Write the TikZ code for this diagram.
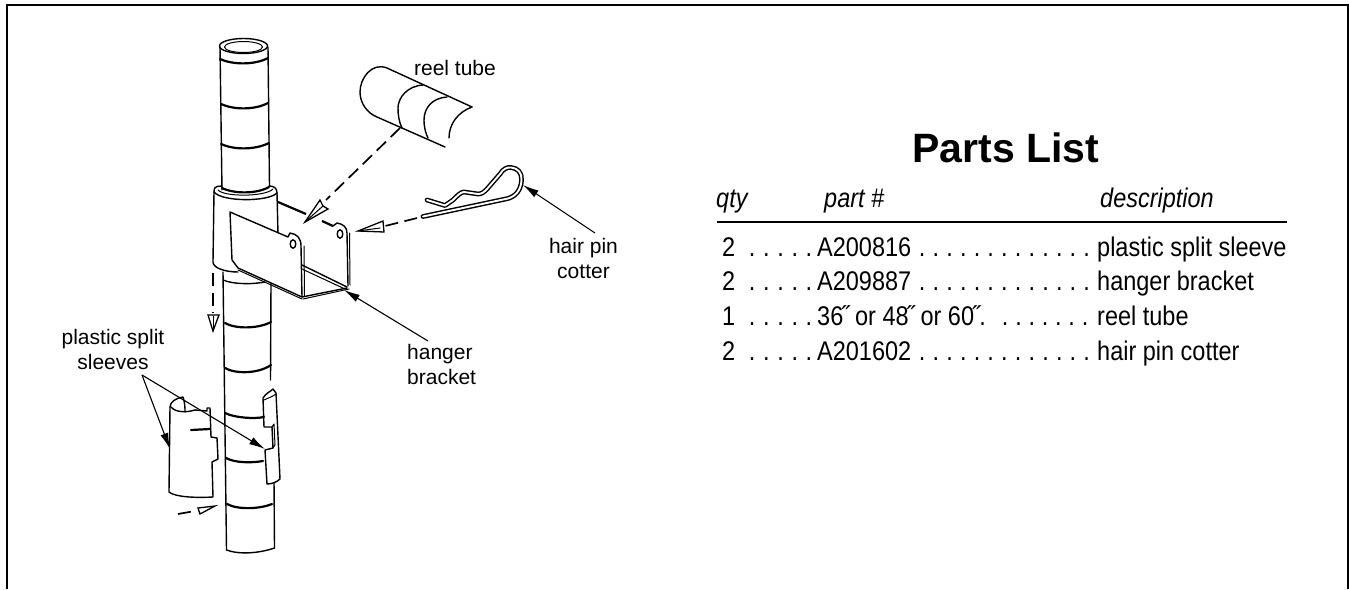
\documentclass[tikz,border=0pt]{standalone}
\usepackage{fontspec}
\setmainfont{Liberation Sans}
\newfontfamily\condfont[FakeStretch=0.87]{Liberation Sans}
\usetikzlibrary{arrows.meta}
\newcommand{\dotA}{\makebox[14.2pt][c]{.}}
\newcommand{\dotB}{\makebox[13.7pt][c]{.}}
\newcommand{\dotC}{\makebox[13.3pt][c]{.}}
\newcommand{\dotsA}{\dotA\dotA\dotA\dotA\dotA}
\newcommand{\dotsB}{\dotB\dotB\dotB\dotB\dotB\dotB\dotB\dotB\dotB\dotB\dotB\dotB\dotB}
\newcommand{\dotsC}{\dotC\dotC\dotC\dotC\dotC\dotC\dotC}
\newcommand{\inchmark}{\kern-2pt˝\kern-.5pt}
\tikzset{
 thinl/.style={line width=1pt,line join=round,line cap=round},
 medl/.style={line width=1.4pt,line join=round,line cap=round},
 band/.style={line width=2.2pt,line cap=round},
 dashl/.style={line width=1.7pt,dash pattern=on 13pt off 6.5pt},
 hollow/.style={draw=black,fill=white,line width=1.3pt,line join=miter},
 leader/.style={line width=1.1pt,-{Latex[length=16pt,width=8pt]}},
 lab/.style={font=\fontsize{21}{25}\selectfont,align=center,inner sep=0pt},
 row/.style={font=\condfont\fontsize{27}{27}\selectfont,anchor=base west,inner sep=0pt},
 head/.style={font=\condfont\itshape\fontsize{27}{27}\selectfont,anchor=base west,inner sep=0pt}
}
\begin{document}
\begin{tikzpicture}[x=1pt,y=-1pt]
\useasboundingbox (0,0) rectangle (1349,589);
\fill[white] (0,0) rectangle (1349,589);
% frame
\draw[line width=2.2pt] (7.3,589) -- (7.3,4.8) -- (1347.6,4.8) -- (1347.6,589);
% pole upper
\draw[medl] (220,47) -- (222,190);
\draw[medl] (268,47) -- (269.5,186);
\draw[medl] (243.5,46) ellipse (24 and 7.5);
\draw[thinl] (243.5,47) ellipse (19 and 5.5);
\draw[band] (220,59) .. controls (233,65) and (255,65) .. (268,58);
\draw[band] (221,104) .. controls (234,110) and (255,110) .. (268,103);
\draw[band] (221,144) .. controls (234,150) and (255,150) .. (269,143);
\draw[band] (222,188) .. controls (234,194) and (257,194) .. (269,187);
% collar
\draw[medl] (214,192) .. controls (214,184) and (220,187) .. (222,186);
\draw[medl] (269,186) .. controls (274,186) and (277,188) .. (277,193);
\draw[medl] (214,192) .. controls (222,202) and (268,202) .. (277,193);
\draw[thinl] (218,190) .. controls (224,197) and (265,197) .. (273,189);
\draw[medl] (214,192) -- (213,262) .. controls (213,268) and (225,272) .. (238,272);
\draw[medl] (277,193) -- (278,234);
% pole lower
\draw[medl] (223,272) -- (226.5,550);
\draw[medl] (271,283) -- (270.5,380);
\draw[medl] (274,480) -- (274.5,548);
\draw[medl] (226.5,550) .. controls (240,555) and (260,553) .. (274.5,548);
\draw[medl] (223,280) .. controls (235,285) and (255,284) .. (265,282);
\draw[band] (225,323) .. controls (235,329) and (258,329) .. (271,322);
\draw[band] (225,368) .. controls (235,374) and (258,374) .. (271,365);
\draw[band] (226,458) .. controls (235,463) and (252,463) .. (263,461);
\draw[band] (227,504) .. controls (238,510) and (260,509) .. (272,504);
% bracket back plate
\fill[white] (283,206) -- (333,228) -- (348,285) -- (302,297) -- (302,240) -- cycle;
\draw[line width=2.2pt] (278,202) -- (306,214);
\draw[line width=2.2pt] (322,221) -- (333,226);
\draw[medl] (333,226) -- (337,223) .. controls (343,224) and (347,227) .. (347,233) -- (348,286);
\draw[thinl] (349.5,233) -- (350,285);
\draw[medl] (302,265) -- (347,287);
\draw[thinl] (302,269) -- (345,289);
\draw[medl] (302,297) -- (347,288);
\draw[thinl] (303,299) -- (349,289);
\draw[medl] (340,234) ellipse (2.8 and 4.2);
% bracket front plate
\path[fill=white,draw=black,line width=1.4pt,line join=round] (230,212) -- (288,237) -- (290,233) .. controls (297,234) and (301,238) .. (301,246) -- (302,297) -- (238,268) -- (232,260) -- cycle;
\draw[thinl] (304,246) -- (304.5,296);
\draw[thinl] (238,270) -- (302,299);
\draw[medl] (293,244) ellipse (2.8 and 4.2);
% reel tube
\draw[medl] (472,107) -- (387,68) .. controls (372,62) and (360,78) .. (360,92) .. controls (360,103) and (367,113) .. (377,117) -- (445,147);
\draw[medl] (423,85) .. controls (407,86) and (398,98) .. (398,108) .. controls (398,115) and (399,122) .. (402,128);
\draw[medl] (447,97) .. controls (432,98) and (424,108) .. (424,120) .. controls (424,128) and (426,134) .. (428,138);
\draw[medl] (472,107) .. controls (458,112) and (449,124) .. (449,138);
% hair pin cotter: a tube drawn black, then hollowed
\def\pinpath{(427,200) -- (445,205.5) -- (453,200) .. controls (458,195) and (461,192) .. (464,192) -- (478,194) .. controls (482,194) and (484,192) .. (487,189) -- (500,174) .. controls (503,169) and (507,167) .. (511,167.5) .. controls (518,168) and (522,173) .. (521.5,180) .. controls (521,190) and (516,196) .. (508,198.5) -- (423,216.5)}
\draw[line width=4.8pt,line cap=round,line join=round] \pinpath;
\draw[white,line width=1.9pt,line cap=round,line join=round] \pinpath;
% dashes and hollow arrows
\draw[dashl] (400,128) -- (326,200);
\path[hollow] (305,222) -- (320,200) -- (323,206) -- (328,209) -- cycle;
\draw[thinl] (305,222) -- (323,206);
\draw[dashl] (417,218) -- (385,226);
\path[hollow] (358,231) -- (383,221) -- (384,232) -- cycle;
\draw[thinl] (358,231) -- (380,228);
\draw[dashl] (213,273) -- (213,313);
\path[hollow] (213,331) -- (208,315) -- (219,315) -- cycle;
\draw[thinl] (213,331) -- (213,316);
\draw[dashl] (178,514) -- (195,511);
\path[hollow] (215,506) -- (198,508) -- (200,514) -- cycle;
% left sleeve
\draw[medl] (170,407) .. controls (170,402) and (176,398) .. (183,397) .. controls (185,403) and (185,408) .. (185,412);
\draw[medl] (170,407) -- (169,492) .. controls (175,497) and (195,498) .. (213,497) -- (212,462) -- (218,459) -- (217,438) -- (211,437) -- (210,408) -- (207,408) -- (207,411) -- (195,410);
\draw[medl] (171,407) .. controls (175,412) and (185,413) .. (195,410);
\draw[band] (191,430) -- (210,429);
% right sleeve
\path[fill=white,draw=black,line width=1.4pt,line join=round] (263,398) -- (264,427) -- (272,427) -- (273,448) -- (265,450) -- (267,484) .. controls (272,484) and (277,482) .. (280,479) -- (276,393) -- (273,389) .. controls (270,392) and (266,393) .. (263,398) -- cycle;
\draw[thinl] (264,400) .. controls (268,398) and (272,397) .. (276,394);
\draw[thinl] (272,427) -- (274,424) -- (275,445) -- (273,448);
\draw[band] (225,413) .. controls (235,418) and (255,419) .. (264,417);
% labels
\node[lab] (lreel) at (455,67.5) {reel tube};
\node[lab] (lpin) at (583.5,258) {hair pin\\cotter};
\node[lab,align=left,anchor=west] (lhang) at (407,364.5) {hanger\\bracket};
\node[lab] (lsleeve) at (113,349) {plastic split\\sleeves};
\coordinate (a1) at (523,185);
\coordinate (t1) at (595,233);
\coordinate (a2) at (344,290);
\coordinate (t2) at (428,341);
\coordinate (s0) at (142,375);
\coordinate (s1) at (170,449);
\coordinate (s2) at (265,449);
\draw[leader] (t1) -- (a1);
\draw[leader] (t2) -- (a2);
\draw[leader] (s0) -- (s1);
\draw[leader] (s0) -- (s2);
% parts list
\node[font=\bfseries\fontsize{41}{41}\selectfont,inner sep=0pt] (title) at (1006,148) {Parts List};
\node[head] (h1) at (716,207) {qty};
\node[head] (h2) at (824,207) {part \#};
\node[head] (h3) at (1100,207) {description};
\coordinate (r0) at (717,221.5);
\coordinate (r1) at (1287,221.5);
\draw[line width=2pt] (r0) -- (r1);
\node[row] (q1) at (722,256) {2};
\node[row] (d1) at (744.9,256) {\dotsA};
\node[row] (p1) at (817,256) {A200816};
\node[row] (e1) at (915.2,256) {\dotsB};
\node[row] (t1x) at (1097,256) {plastic split sleeve};
\node[row] (q2) at (722,290.5) {2};
\node[row] (d2) at (744.9,290.5) {\dotsA};
\node[row] (p2) at (817,290.5) {A209887};
\node[row] (e2) at (915.2,290.5) {\dotsB};
\node[row] (t2x) at (1097,290.5) {hanger bracket};
\node[row] (q3) at (722,325) {1};
\node[row] (d3) at (744.9,325) {\dotsA};
\node[row] (p3) at (817,325) {36\inchmark{} or 48\inchmark{} or 60\inchmark.};
\node[row] (e3) at (998.4,325) {\dotsC};
\node[row] (t3x) at (1097,325) {reel tube};
\node[row] (q4) at (722,360) {2};
\node[row] (d4) at (744.9,360) {\dotsA};
\node[row] (p4) at (817,360) {A201602};
\node[row] (e4) at (915.2,360) {\dotsB};
\node[row] (t4x) at (1097,360) {hair pin cotter};
\end{tikzpicture}
\end{document}
